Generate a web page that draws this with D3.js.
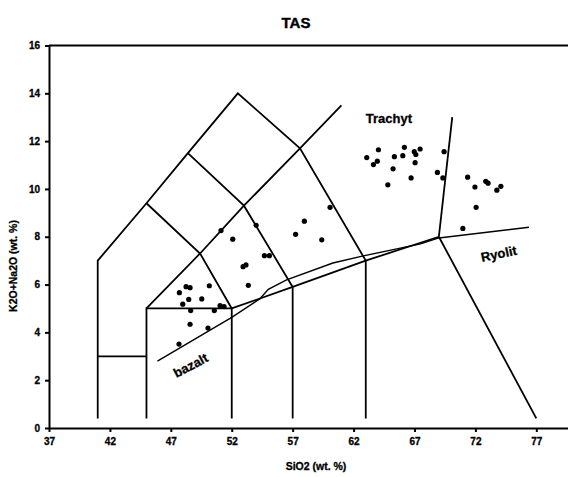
<!DOCTYPE html>
<html>
<head>
<meta charset="utf-8">
<script src="https://cdn.jsdelivr.net/npm/d3@7"></script>
<style>
	body { margin: 0; background: #fff; }
	svg text { font-family: Arial, "Liberation Sans", sans-serif; font-weight: bold; fill: #000; }
</style>
</head>
<body>
<div id="chart"></div>
<script>
"use strict";

// axis ticks
const xTicks = [37, 42, 47, 52, 57, 62, 67, 72, 77];
const yTicks = [0, 2, 4, 6, 8, 10, 12, 14, 16];

// TAS field boundaries, [SiO2, Na2O+K2O]
const fieldLines = [
	[[41, 0.4], [41, 7], [45, 9.4], [48.4, 11.5], [52.5, 14], [57.6, 11.7], [63, 7], [63, 0.4]],
	[[41, 3], [45, 3]],
	[[45, 0.4], [45, 5], [52, 5], [52, 0.4]],
	[[45, 5], [49.4, 7.3], [53, 9.3], [57.6, 11.7], [61, 13.5]],
	[[45, 9.4], [49.4, 7.3], [52, 5]],
	[[48.4, 11.5], [53, 9.3], [57, 5.9]],
	[[52, 5], [57, 5.9], [63, 7], [69, 8]],
	[[57, 0.4], [57, 5.9]],
	[[69, 8], [70.1, 13]],
	[[69, 8], [77, 0.4]]
];

// alkaline / subalkaline divide
const divideLine = [[45.9, 2.8], [52, 4.63], [54.3, 5.4], [55, 5.8], [56.5, 6.2], [60.3, 6.9],
	[62.8, 7.2], [67.5, 7.7], [69, 7.95], [76.4, 8.4]];

// samples
const sio2 = [47.7, 48.25, 48.58, 50.16, 48.47, 49.54, 47.98, 48.63, 50.57, 51.04, 51.37, 48.58, 50.05, 47.67,
	51.12, 52.08, 54.0, 52.93, 53.17, 53.36, 54.68, 55.09, 57.24, 57.96, 59.39, 60.07,
	63.08, 64.04, 63.63, 63.95, 65.35, 65.24, 64.81, 66.17, 66.04, 66.98, 67.11, 67.46, 67.05, 66.72, 69.43, 68.88, 69.33,
	71.36, 71.96, 72.85, 73.04, 73.76, 74.09, 72.06, 70.97];
const alkali = [5.66, 5.91, 5.87, 5.95, 5.38, 5.4, 5.18, 4.91, 4.91, 5.12, 5.08, 4.34, 4.18, 3.51,
	8.26, 7.9, 8.48, 6.75, 6.82, 5.97, 7.21, 7.21, 8.1, 8.65, 7.87, 9.23,
	11.31, 11.64, 11.02, 11.16, 11.35, 10.84, 10.17, 11.74, 11.39, 11.56, 11.44, 11.67, 11.1, 10.46, 11.56, 10.69, 10.46,
	10.49, 10.08, 10.32, 10.24, 9.95, 10.11, 9.23, 8.35];

// field names
const fieldLabels = [
	{ text: "Trachyt", x: 63.0, y: 12.75, angle: 0, anchor: "start" },
	{ text: "Ryolit", x: 74.0, y: 7.1, angle: -12, anchor: "middle" },
	{ text: "bazalt", x: 48.8, y: 2.45, angle: -28, anchor: "middle" }
];

const WIDTH = 568;
const HEIGHT = 477;

let svg = d3.select("#chart")
	.append("svg")
	.attr("width", WIDTH)
	.attr("height", HEIGHT);

let x = d3.scaleLinear().domain([37, 79.6]).range([49, 568]);
let y = d3.scaleLinear().domain([0, 16]).range([428, 45.5]);

// title
svg.append("text")
	.attr("x", 296)
	.attr("y", 28)
	.attr("text-anchor", "middle")
	.style("font-size", "15px")
	.style("stroke", "#000")
	.style("stroke-width", "0.4px")
	.text("TAS");

// top border of plot
svg.append("line")
	.attr("x1", x(37))
	.attr("x2", x.range()[1])
	.attr("y1", y(16))
	.attr("y2", y(16))
	.style("stroke", "#000")
	.style("stroke-width", "2px");

// axes
let xAxis = svg.append("g")
	.attr("transform", "translate(0," + y(0) + ")")
	.call(d3.axisBottom(x).tickValues(xTicks).tickSize(4).tickSizeOuter(0).tickPadding(6));

let yAxis = svg.append("g")
	.attr("transform", "translate(" + x(37) + ",0)")
	.call(d3.axisLeft(y).tickValues(yTicks).tickSize(4).tickSizeOuter(0).tickPadding(5));

[xAxis, yAxis].forEach(function (a) {
	a.select(".domain").style("stroke", "#000").style("stroke-width", "2px");
	a.selectAll(".tick line").style("stroke", "#000").style("stroke-width", "2px");
	a.selectAll(".tick text")
		.style("font-size", "10px")
		.style("font-family", "Arial, 'Liberation Sans', sans-serif")
		.style("font-weight", "bold")
		.style("stroke", "#000")
		.style("stroke-width", "0.3px");
});

// axis titles
svg.append("text")
	.attr("x", 316)
	.attr("y", 470)
	.attr("text-anchor", "middle")
	.style("font-size", "10.5px")
	.style("stroke", "#000")
	.style("stroke-width", "0.3px")
	.text("SiO2 (wt. %)");

svg.append("text")
	.attr("transform", "translate(17,266) rotate(-90)")
	.attr("text-anchor", "middle")
	.style("font-size", "10.5px")
	.style("stroke", "#000")
	.style("stroke-width", "0.3px")
	.text("K2O+Na2O (wt. %)");

let line = d3.line()
	.x(function (d) { return x(d[0]); })
	.y(function (d) { return y(d[1]); });

// field boundaries
svg.append("g")
	.selectAll("path")
	.data(fieldLines)
	.enter()
	.append("path")
	.attr("d", line)
	.style("fill", "none")
	.style("stroke", "#000")
	.style("stroke-width", "1.8px")
	.style("stroke-linejoin", "miter");

svg.append("path")
	.datum(divideLine)
	.attr("d", line)
	.style("fill", "none")
	.style("stroke", "#000")
	.style("stroke-width", "1.4px");

// sample points
svg.append("g")
	.selectAll("circle")
	.data(d3.range(sio2.length))
	.enter()
	.append("circle")
	.attr("cx", function (i) { return x(sio2[i]); })
	.attr("cy", function (i) { return y(alkali[i]); })
	.attr("r", 2.6)
	.style("fill", "#000");

// field labels
svg.append("g")
	.selectAll("text")
	.data(fieldLabels)
	.enter()
	.append("text")
	.attr("transform", function (d) { return "translate(" + x(d.x) + "," + y(d.y) + ") rotate(" + d.angle + ")"; })
	.attr("text-anchor", function (d) { return d.anchor; })
	.style("font-size", "13px")
	.style("stroke", "#000")
	.style("stroke-width", "0.3px")
	.text(function (d) { return d.text; });
</script>
</body>
</html>
